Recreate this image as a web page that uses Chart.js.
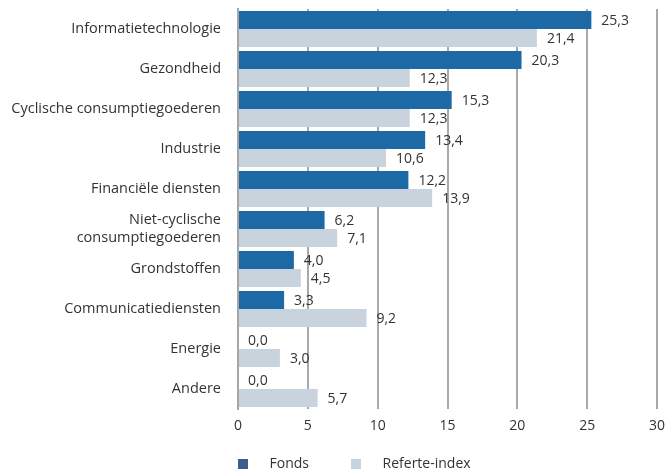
<!DOCTYPE html>
<html>
<head>
<meta charset="utf-8">
<script src="https://cdn.jsdelivr.net/npm/chart.js@4/dist/chart.umd.min.js"></script>
<style>
  html, body { margin: 0; padding: 0; background: #fff; }
  #wrap { width: 667px; height: 473px; }
</style>
</head>
<body>
<div id="wrap"><canvas id="myChart" width="667" height="473"></canvas></div>
<script>
// sectors (top to bottom)
const sectors = [
  'Informatietechnologie',
  'Gezondheid',
  'Cyclische consumptiegoederen',
  'Industrie',
  'Financiële diensten',
  ['Niet-cyclische', 'consumptiegoederen'],
  'Grondstoffen',
  'Communicatiediensten',
  'Energie',
  'Andere'
];

const fonds = [25.3, 20.3, 15.3, 13.4, 12.2, 6.2, 4.0, 3.3, 0.0, 0.0];
const referteIndex = [21.4, 12.3, 12.3, 10.6, 13.9, 7.1, 4.5, 9.2, 3.0, 5.7];

const xTicks = [0, 5, 10, 15, 20, 25, 30];

const fontFamily = '"Open Sans", Lato, sans-serif';
const textColor = '#333333';

// value labels next to each bar, with comma decimals
const valueLabels = {
  id: 'valueLabels',
  afterDatasetsDraw(chart) {
    const ctx = chart.ctx;
    ctx.save();
    ctx.font = '14px ' + fontFamily;
    ctx.fillStyle = textColor;
    ctx.textAlign = 'left';
    ctx.textBaseline = 'middle';
    chart.data.datasets.forEach((ds, i) => {
      const meta = chart.getDatasetMeta(i);
      meta.data.forEach((bar, j) => {
        const txt = ds.data[j].toFixed(1).replace('.', ',');
        ctx.fillText(txt, bar.x + 10, bar.y + 1);
      });
    });
    ctx.restore();
  }
};

// put the legend under the plot, starting at the zero line
const legendPlace = {
  id: 'legendPlace',
  afterLayout(chart) {
    const lg = chart.legend;
    lg.left = chart.chartArea.left - 2;
    lg.top += 8;
    lg.bottom += 8;
  }
};

const legendBox = ['#3e5d8c', '#c9d3de'];

const data = {
  labels: sectors,
  datasets: [
    {
      label: 'Fonds',
      data: fonds,
      backgroundColor: '#1c69a6',
      categoryPercentage: 0.9,
      barPercentage: 1.0
    },
    {
      label: 'Referte-index',
      data: referteIndex,
      backgroundColor: '#c9d3de',
      categoryPercentage: 0.9,
      barPercentage: 1.0
    }
  ]
};

const config = {
  type: 'bar',
  data: data,
  options: {
    indexAxis: 'y',
    responsive: false,
    animation: false,
    layout: { padding: { top: 9, right: 10, bottom: 0, left: 8 } },
    scales: {
      x: {
        min: 0,
        max: 30,
        afterBuildTicks(scale) {
          scale.ticks = xTicks.map(v => ({ value: v }));
        },
        afterFit(scale) {
          scale.height = 38;
          scale.paddingLeft = 0;
          scale.paddingRight = 0;
        },
        grid: { color: '#a9a9a9', lineWidth: 2, drawTicks: false },
        border: { display: false },
        ticks: {
          padding: 9,
          color: textColor,
          font: { family: fontFamily, size: 14 }
        }
      },
      y: {
        afterFit(scale) {
          scale.width = 230;
          scale.paddingTop = 0;
          scale.paddingBottom = 0;
        },
        grid: { display: false, drawTicks: false },
        border: { display: true, color: '#a6a6a6', width: 2 },
        ticks: {
          autoSkip: false,
          padding: 17,
          color: textColor,
          font: { family: fontFamily, size: 14.5 }
        }
      }
    },
    plugins: {
      tooltip: { enabled: false },
      legend: {
        position: 'bottom',
        align: 'start',
        labels: {
          boxWidth: 10,
          boxHeight: 10,
          padding: 2,
          color: textColor,
          font: { family: fontFamily, size: 14 },
          generateLabels(chart) {
            return chart.data.datasets.map((ds, i) => ({
              text: '    ' + ds.label + (i === 0 ? '           ' : ''),
              fillStyle: legendBox[i],
              strokeStyle: legendBox[i],
              lineWidth: 0,
              hidden: false,
              datasetIndex: i,
              fontColor: textColor
            }));
          }
        }
      }
    }
  },
  plugins: [valueLabels, legendPlace]
};

const myChart = new Chart(
  document.getElementById('myChart'),
  config
);
</script>
</body>
</html>
